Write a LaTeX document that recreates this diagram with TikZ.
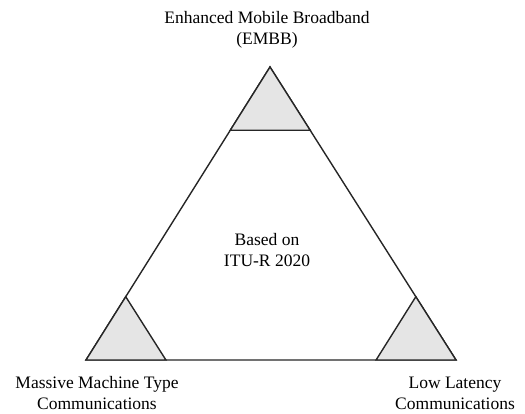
\documentclass[tikz,border=0pt]{standalone}
\usepackage{fontspec}
\setmainfont{Liberation Serif}
\usetikzlibrary{calc}

\begin{document}
\begin{tikzpicture}[x=1pt,y=-1pt,
    edge/.style={line width=1.4pt, draw=black!85, line join=miter},
    corner/.style={edge, fill=gray!20},
    caption/.style={align=center, inner sep=0pt, font=\fontsize{17.5}{21}\selectfont}]
    \useasboundingbox (0,0) rectangle (525,414);

    % outer triangle
    \coordinate (T) at (270,67);
    \coordinate (L) at (86,360);
    \coordinate (R) at (456,360);
    \draw[edge] (T) -- (L) -- (R) -- cycle;

    % shaded corners
    \filldraw[corner] (T) -- ($(T)!0.216!(L)$) -- ($(T)!0.216!(R)$) -- cycle;
    \filldraw[corner] (L) -- ($(L)!0.216!(T)$) -- ($(L)!0.216!(R)$) -- cycle;
    \filldraw[corner] (R) -- ($(R)!0.216!(T)$) -- ($(R)!0.216!(L)$) -- cycle;

    % labels
    \node[caption] (embb) at (267,30) {Enhanced Mobile Broadband\\(EMBB)};
    \node[caption] (itu) at (267,250) {Based on\\ITU-R 2020};
    \node[caption] (mmtc) at (97,393) {Massive Machine Type\\Communications};
    \node[caption] (llc) at (455,393) {Low Latency\\Communications};
\end{tikzpicture}
\end{document}
